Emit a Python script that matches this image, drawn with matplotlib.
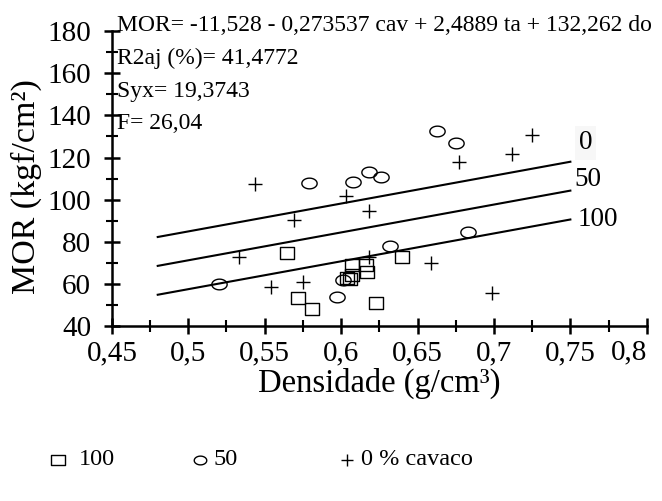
"""MOR x densidade, por % de cavaco, com as retas do modelo ajustado."""

import matplotlib
import numpy as np

matplotlib.use("Agg")
import matplotlib.pyplot as plt  # noqa: E402
from matplotlib.path import Path  # noqa: E402
from matplotlib.ticker import FuncFormatter, MultipleLocator  # noqa: E402

plt.rcParams["font.family"] = ["Liberation Serif", "DejaVu Serif"]

# 100 % cavaco (quadrados)
dens_100 = [0.5645, 0.572, 0.581, 0.607, 0.616, 0.617, 0.607, 0.604, 0.606, 0.640, 0.623]
mor_100 = [74.7, 53.3, 48.1, 69.0, 69.0, 65.7, 64.5, 63.0, 62.3, 72.8, 50.9]

# 50 % cavaco (circulos)
dens_50 = [0.520, 0.579, 0.608, 0.618, 0.626, 0.663, 0.675, 0.683, 0.632, 0.601, 0.597]
mor_50 = [60.0, 107.9, 108.4, 113.2, 110.8, 132.6, 126.9, 84.7, 78.0, 61.9, 53.8]

# 0 % cavaco (cruzes)
dens_0 = [0.5435, 0.569, 0.533, 0.554, 0.575, 0.603, 0.618, 0.677, 0.712, 0.725,
          0.618, 0.659, 0.699]
mor_0 = [107.5, 90.4, 72.8, 58.5, 60.9, 101.8, 94.6, 117.9, 121.7, 130.7,
         72.8, 69.9, 55.7]

# retas do modelo (extremos)
line_x = [0.48, 0.75]
line_vals = {"0": [82.3, 118.0], "50": [68.6, 104.3], "100": [54.9, 90.6]}

eq_lines = ["MOR= -11,528 - 0,273537 cav + 2,4889 ta + 132,262 do",
            "R2aj (%)= 41,4772",
            "Syx= 19,3743",
            "F= 26,04"]


def shape(kind):
    if kind == "ellipse":
        t = np.linspace(0, 2 * np.pi, 60)
        return Path(np.column_stack([np.cos(t), 0.7 * np.sin(t)]), closed=True)
    return Path([(-1, -0.8), (1, -0.8), (1, 0.8), (-1, 0.8), (-1, -0.8)], closed=True)


def xfmt(v, pos):
    # o ultimo rotulo (0,8) vai a parte, alinhado a direita
    if v > 0.79:
        return ""
    return f"{round(v, 2):g}".replace(".", ",")


fig = plt.figure(figsize=(6.62, 5.01), dpi=100)
ax = fig.add_axes([0.169, 0.349, 0.808, 0.589])

mk = dict(ls="none", mfc="none", mec="black", clip_on=False)
ax.plot(dens_100, mor_100, marker=shape("rect"), ms=10.5, mew=1.0, **mk)
ax.plot(dens_50, mor_50, marker=shape("ellipse"), ms=11, mew=1.0, **mk)
ax.plot(dens_0, mor_0, marker="+", ms=10, mew=1.0, **mk)

for key, vals in line_vals.items():
    ax.plot(line_x, vals, color="black", lw=1.5)

ax.text(0.7555, 126.9, "0", fontsize=19.5, va="center", ha="left",
        bbox=dict(facecolor="#f7f7f7", edgecolor="none", pad=3))
ax.text(0.7525, 109.4, "50", fontsize=19.5, va="center", ha="left")
ax.text(0.7545, 90.8, "100", fontsize=19.5, va="center", ha="left")

for i, s in enumerate(eq_lines):
    ax.text(0.4535, 182.5 - i * 15.5, s, fontsize=17, va="center", ha="left",
            clip_on=False)

ax.set_xlim(0.45, 0.8)
ax.set_ylim(40, 180)
ax.xaxis.set_major_locator(MultipleLocator(0.05))
ax.xaxis.set_minor_locator(MultipleLocator(0.025))
ax.yaxis.set_major_locator(MultipleLocator(20))
ax.yaxis.set_minor_locator(MultipleLocator(10))
ax.xaxis.set_major_formatter(FuncFormatter(xfmt))
ax.yaxis.set_major_formatter(FuncFormatter(lambda v, p: f"{v:.0f}"))

for side in ("top", "right"):
    ax.spines[side].set_visible(False)
for side in ("left", "bottom"):
    ax.spines[side].set_linewidth(1.8)
ax.tick_params(which="major", direction="inout", length=12, width=1.8, labelsize=21)
ax.tick_params(axis="y", which="major", pad=9)
ax.tick_params(axis="x", which="major", pad=4)
ax.tick_params(which="minor", direction="inout", length=8, width=1.5)

ax.text(0.8, -0.044, "0,8", fontsize=21, ha="right", va="top",
        transform=ax.get_xaxis_transform(), clip_on=False)

ax.set_xlabel("Densidade (g/cm³)", fontsize=23.5, labelpad=1)
ax.set_ylabel("MOR (kgf/cm²)", fontsize=24.5)
ax.yaxis.set_label_coords(-0.13, 0.473)

# legenda manual na base da figura
ly = 0.082
leg = [(0.088, 0.031, shape("rect"), 9.5, "100"),
       (0.302, 0.020, shape("ellipse"), 9, "50"),
       (0.524, 0.021, "+", 9, "0 % cavaco")]
for x0, dx, m, size, lab in leg:
    fig.add_artist(plt.Line2D([x0], [ly], marker=m, ms=size, mfc="none", mec="black",
                              mew=1.0, ls="none", transform=fig.transFigure))
    fig.text(x0 + dx, ly, lab, fontsize=17.5, va="center", ha="left")

fig.savefig("out.png", dpi=100)
